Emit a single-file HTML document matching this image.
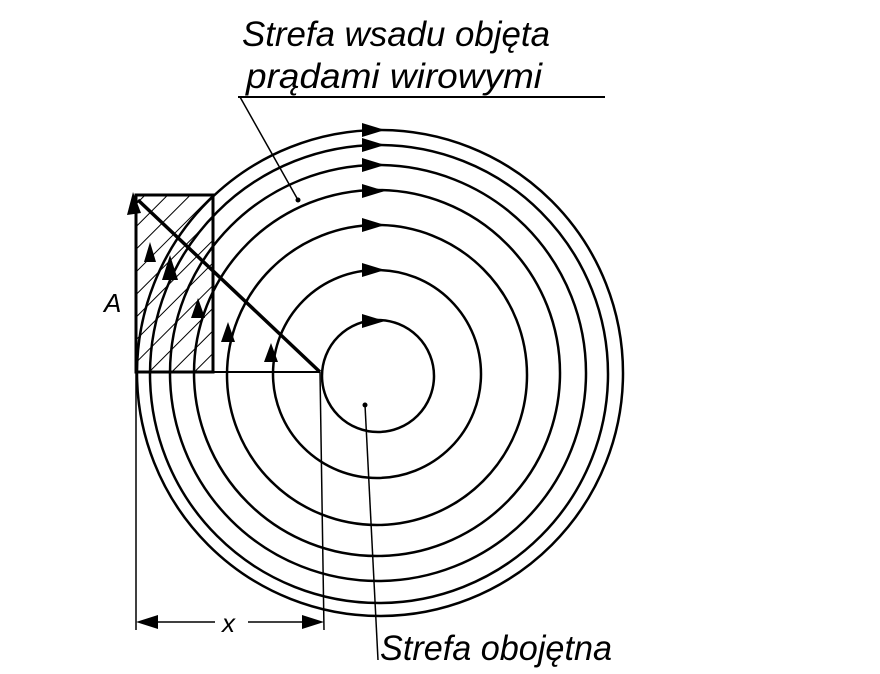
<!DOCTYPE html>
<html><head><meta charset="utf-8"><style>html,body{margin:0;padding:0;background:#fff}svg{display:block}</style></head>
<body>
<svg width="880" height="674" viewBox="0 0 880 674" xmlns="http://www.w3.org/2000/svg">
<defs>
<pattern id="h" width="16" height="16" patternUnits="userSpaceOnUse" patternTransform="rotate(45)">
<line x1="0" y1="0" x2="0" y2="16" stroke="#000" stroke-width="2"/>
</pattern>
<clipPath id="c"><rect x="136" y="0" width="744" height="674"/></clipPath>
</defs>
<g font-family="Liberation Sans, sans-serif" font-style="italic" font-size="35">
<text x="242" y="46" textLength="308" lengthAdjust="spacingAndGlyphs">Strefa wsadu objęta</text>
<text x="246" y="88" textLength="296" lengthAdjust="spacingAndGlyphs">prądami wirowymi</text>
<text x="380" y="660" textLength="232" lengthAdjust="spacingAndGlyphs">Strefa obojętna</text>
<text x="104" y="312" font-size="26">A</text>
<text x="222" y="632" font-size="26">x</text>
</g>
<g stroke="#000" fill="none">
<line x1="238" y1="97" x2="605" y2="97" stroke-width="2"/>
<line x1="240" y1="97" x2="298" y2="200" stroke-width="1.5"/>
<line x1="365" y1="405" x2="378" y2="660" stroke-width="1.5"/>
<rect x="136" y="195" width="77" height="177" fill="url(#h)" stroke-width="3"/>
<g clip-path="url(#c)" stroke-width="2.5">
<circle cx="378" cy="376" r="56"/>
<circle cx="377" cy="374" r="104"/>
<circle cx="377" cy="375" r="150"/>
<circle cx="377" cy="373" r="183"/>
<circle cx="378" cy="373" r="208"/>
<circle cx="379" cy="374" r="229"/>
<circle cx="380" cy="373" r="243"/>
</g>
<line x1="136" y1="372" x2="320" y2="372" stroke-width="2"/>
<line x1="320" y1="372" x2="324" y2="630" stroke-width="1.5"/>
<line x1="136" y1="372" x2="136" y2="630" stroke-width="1.5"/>
<line x1="320" y1="372" x2="138" y2="200" stroke-width="3.5"/>
<line x1="140" y1="622" x2="215" y2="622" stroke-width="1.5"/>
<line x1="248" y1="622" x2="320" y2="622" stroke-width="1.5"/>
</g>
<g fill="#000">
<polygon points="136,622 158,615 158,629"/>
<polygon points="324,622 302,615 302,629"/>
<polygon points="133,192 127,215 141,213"/>
<g>
<polygon points="385,130 362,123 362,137"/>
<polygon points="385,145 362,138 362,152"/>
<polygon points="385,165 362,158 362,172"/>
<polygon points="385,191 362,184 362,198"/>
<polygon points="385,225 362,218 362,232"/>
<polygon points="385,270 362,263 362,277"/>
<polygon points="385,321 362,314 362,328"/>
</g>
<polygon points="170,255 162,280 178,280"/>
<polygon points="271,343 264,362 278,362"/>
<polygon points="228,322 221,342 235,342"/>
<polygon points="198,298 191,318 205,318"/>
<polygon points="150,242 144,262 156,262"/>
<circle cx="298" cy="200" r="2.5"/>
<circle cx="365" cy="405" r="2.5"/>
</g>
</svg>
</body></html>
